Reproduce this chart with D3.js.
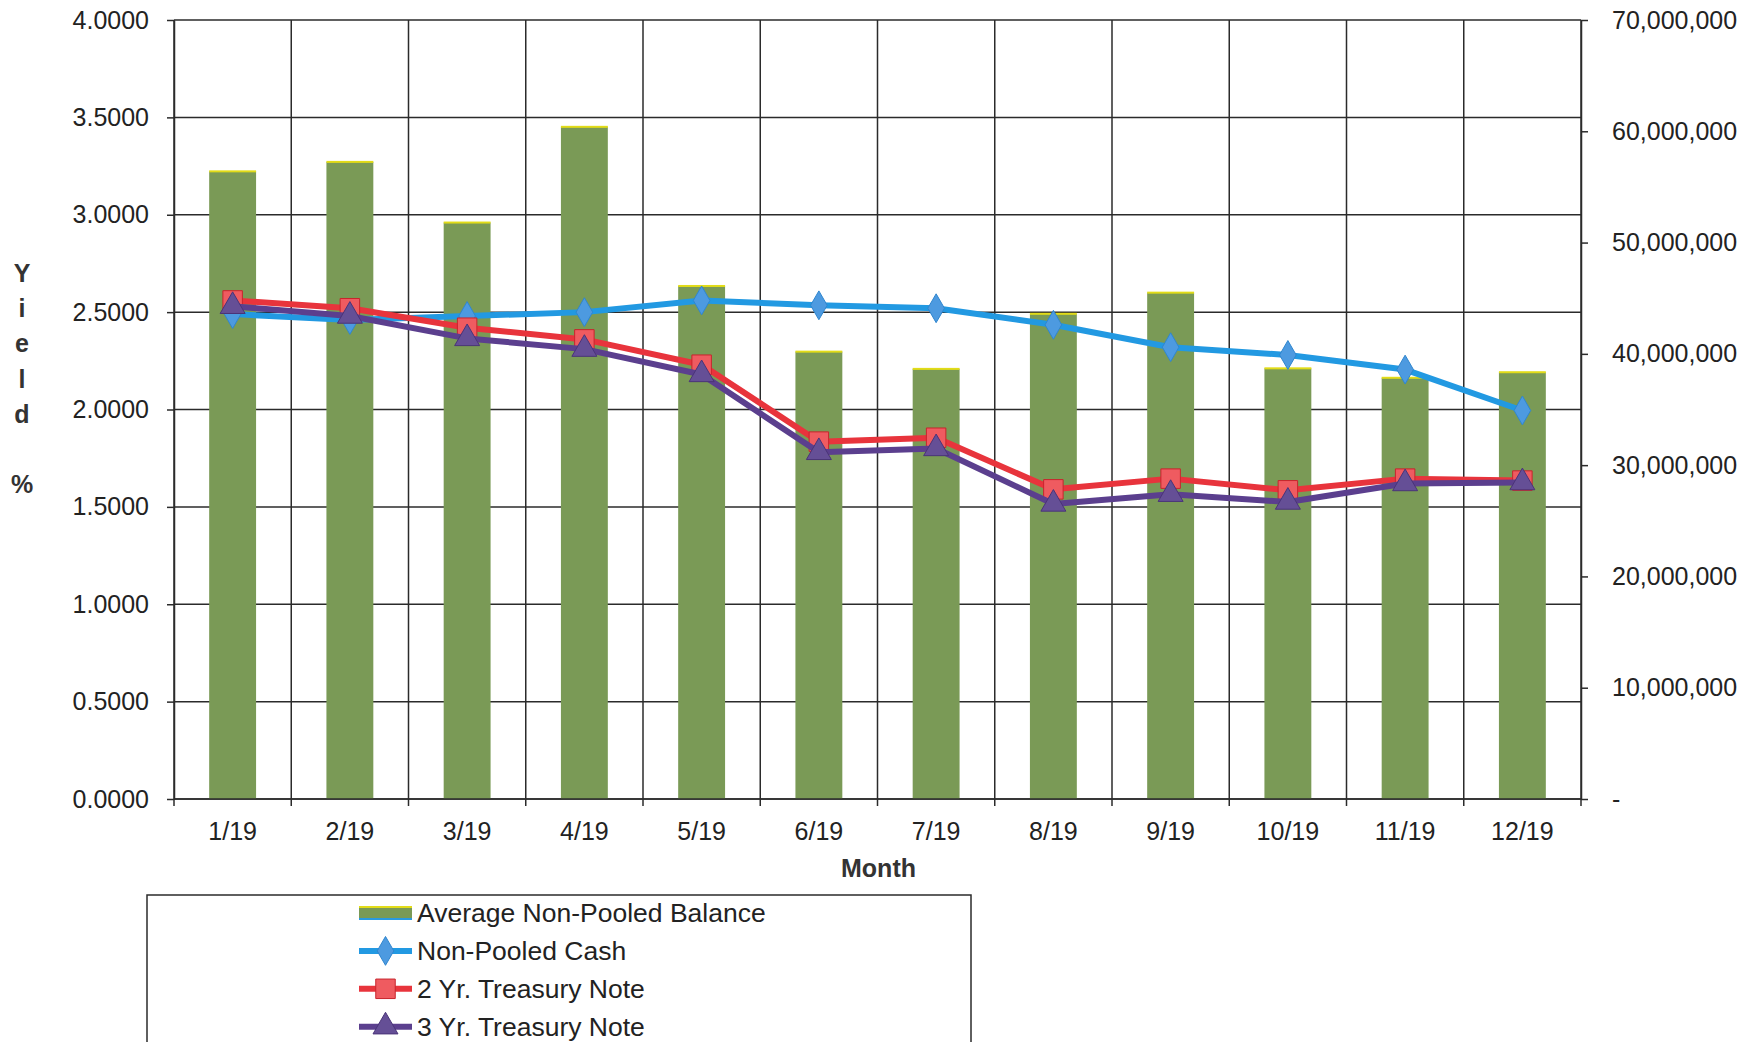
<!DOCTYPE html>
<html lang="en">
<head>
    <meta charset="UTF-8">
    <title>Non-Pooled Cash Yield</title>
    <script src="https://cdn.jsdelivr.net/npm/d3@7/dist/d3.min.js"></script>
    <style>
        body { margin: 0; background: #fff; }
        svg { display: block; font-family: "Liberation Sans", Arial, sans-serif; }
        .axis text { font-size: 25px; fill: #222; }
        .axis path, .axis line { stroke: #2b2b2b; stroke-width: 1.5px; }
        .grid line { stroke: #2b2b2b; stroke-width: 1.5px; }
        .bar { fill: #7a9a56; }
        .bar-top { fill: #e2dc18; }
        .series { fill: none; stroke-width: 6px; stroke-linejoin: round; }
        .legend text { font-size: 26.5px; fill: #222; }
        .title { font-size: 25px; font-weight: bold; fill: #333; }
    </style>
</head>
<body>
<div class="chart"></div>
<script>
    var months = ['1/19', '2/19', '3/19', '4/19', '5/19', '6/19', '7/19', '8/19', '9/19', '10/19', '11/19', '12/19'];
    var balance = [56400000, 57250000, 51800000, 60400000, 46100000, 40200000, 38650000, 43600000, 45500000, 38700000, 37850000, 38350000];
    var cash = [2.49, 2.46, 2.48, 2.50, 2.56, 2.535, 2.52, 2.435, 2.32, 2.28, 2.205, 1.995];
    var tsy2 = [2.56, 2.52, 2.42, 2.36, 2.23, 1.835, 1.855, 1.59, 1.645, 1.585, 1.645, 1.635];
    var tsy3 = [2.53, 2.48, 2.365, 2.31, 2.18, 1.78, 1.80, 1.515, 1.565, 1.525, 1.62, 1.625];
    var yieldTicks = [0, 0.5, 1, 1.5, 2, 2.5, 3, 3.5, 4];
    var balanceTicks = [0, 10000000, 20000000, 30000000, 40000000, 50000000, 60000000, 70000000];
    var legendNames = ['Average Non-Pooled Balance', 'Non-Pooled Cash', '2 Yr. Treasury Note', '3 Yr. Treasury Note'];

    (function()
    {
        "use strict";

        var left = 174, right = 1581, top = 20, bottom = 799;

        var svg = d3.select('.chart').append('svg')
            .attr('width', 1760)
            .attr('height', 1042);

        var x = d3.scaleBand().domain(months).range([left, right]).paddingInner(0.6).paddingOuter(0.3);
        var step = x.step();
        var y = d3.scaleLinear().domain([0, 4]).range([bottom, top]);
        var y2 = d3.scaleLinear().domain([0, 70000000]).range([bottom, top]);
        var cx = function(d, i) { return x(months[i]) + x.bandwidth() / 2; };

        // grid
        var grid = svg.append('g').attr('class', 'grid');
        grid.selectAll('line.h').data(yieldTicks).enter().append('line')
            .attr('x1', left).attr('x2', right)
            .attr('y1', function(d) { return y(d); })
            .attr('y2', function(d) { return y(d); });
        grid.selectAll('line.v').data(d3.range(months.length + 1)).enter().append('line')
            .attr('x1', function(i) { return left + i * step; })
            .attr('x2', function(i) { return left + i * step; })
            .attr('y1', top).attr('y2', bottom);

        // bars
        var bars = svg.append('g');
        bars.selectAll('rect.bar').data(balance).enter().append('rect')
            .attr('class', 'bar')
            .attr('x', function(d, i) { return x(months[i]); })
            .attr('y', function(d) { return y2(d); })
            .attr('width', x.bandwidth())
            .attr('height', function(d) { return bottom - y2(d); });
        bars.selectAll('rect.bar-top').data(balance).enter().append('rect')
            .attr('class', 'bar-top')
            .attr('x', function(d, i) { return x(months[i]); })
            .attr('y', function(d) { return y2(d) - 1; })
            .attr('width', x.bandwidth())
            .attr('height', 2);

        // axes
        svg.append('g').attr('class', 'axis')
            .attr('transform', 'translate(' + left + ',0)')
            .call(d3.axisLeft(y).tickValues(yieldTicks).tickFormat(d3.format('.4f'))
                .tickSizeInner(7).tickSizeOuter(0).tickPadding(18));

        svg.append('g').attr('class', 'axis')
            .attr('transform', 'translate(' + right + ',0)')
            .call(d3.axisRight(y2).tickValues(balanceTicks)
                .tickFormat(function(d) { return d === 0 ? '-' : d3.format(',')(d); })
                .tickSizeInner(7).tickSizeOuter(0).tickPadding(24));

        var xAxis = svg.append('g').attr('class', 'axis')
            .attr('transform', 'translate(0,' + bottom + ')')
            .call(d3.axisBottom(x).tickSize(0).tickPadding(23));
        xAxis.select('.domain').attr('d', 'M' + left + ',0H' + right);
        xAxis.selectAll('line.bound').data(d3.range(months.length + 1)).enter().append('line')
            .attr('class', 'bound')
            .attr('x1', function(i) { return left + i * step; })
            .attr('x2', function(i) { return left + i * step; })
            .attr('y1', 0).attr('y2', 7);

        // lines
        var line = d3.line().x(cx).y(function(d) { return y(d); });

        var diamond = d3.symbol().type(d3.symbolDiamond).size(240);
        var square = d3.symbol().type(d3.symbolSquare).size(380);
        var triangle = d3.symbol().type(d3.symbolTriangle).size(270);

        var series = [
            { values: cash, stroke: '#2299e2', fill: '#4d9ae0', edge: '#2f86cf', shape: diamond },
            { values: tsy2, stroke: '#e8343c', fill: '#ef5b60', edge: '#c8242c', shape: square },
            { values: tsy3, stroke: '#5b3f8e', fill: '#654f96', edge: '#4a3478', shape: triangle }
        ];

        series.forEach(function(s) {
            var g = svg.append('g');
            g.append('path').datum(s.values)
                .attr('class', 'series')
                .attr('stroke', s.stroke)
                .attr('d', line);
            g.selectAll('path.mark').data(s.values).enter().append('path')
                .attr('class', 'mark')
                .attr('transform', function(d, i) { return 'translate(' + cx(d, i) + ',' + y(d) + ')'; })
                .attr('d', s.shape)
                .attr('fill', s.fill)
                .attr('stroke', s.edge)
                .attr('stroke-width', 1);
        });

        // axis titles
        svg.append('text').attr('class', 'title')
            .attr('x', (left + right) / 2 + 1).attr('y', 877)
            .attr('text-anchor', 'middle')
            .text('Month');

        var yLetters = ['Y', 'i', 'e', 'l', 'd', '', '%'];
        svg.append('g').selectAll('text').data(yLetters).enter().append('text')
            .attr('class', 'title')
            .attr('x', 22)
            .attr('y', function(d, i) { return 282 + i * 35.2; })
            .attr('text-anchor', 'middle')
            .text(function(d) { return d; });

        // legend
        var legend = svg.append('g').attr('class', 'legend');
        legend.append('rect')
            .attr('x', 147).attr('y', 895)
            .attr('width', 824).attr('height', 200)
            .attr('fill', 'none').attr('stroke', '#2b2b2b').attr('stroke-width', 1.5);

        var items = legend.selectAll('g.item').data(legendNames).enter().append('g')
            .attr('class', 'item')
            .attr('transform', function(d, i) { return 'translate(359,' + (913 + i * 37.9) + ')'; });

        items.append('text')
            .attr('x', 58).attr('dy', '0.35em')
            .text(function(d) { return d; });

        var swatchBar = items.filter(function(d, i) { return i === 0; });
        swatchBar.append('rect').attr('x', 0).attr('y', -6).attr('width', 53).attr('height', 12).attr('fill', '#7a9a56');
        swatchBar.append('rect').attr('x', 0).attr('y', -7).attr('width', 53).attr('height', 2).attr('fill', '#e2dc18');
        swatchBar.append('rect').attr('x', 0).attr('y', 5).attr('width', 53).attr('height', 2).attr('fill', '#2a9ae0');

        series.forEach(function(s, k) {
            var it = items.filter(function(d, i) { return i === k + 1; });
            it.append('line')
                .attr('x1', 0).attr('x2', 53).attr('y1', 0).attr('y2', 0)
                .attr('stroke', s.stroke).attr('stroke-width', 6);
            it.append('path')
                .attr('transform', 'translate(26.5,0)')
                .attr('d', s.shape)
                .attr('fill', s.fill).attr('stroke', s.edge).attr('stroke-width', 1);
        });
    })();
</script>
</body>
</html>
